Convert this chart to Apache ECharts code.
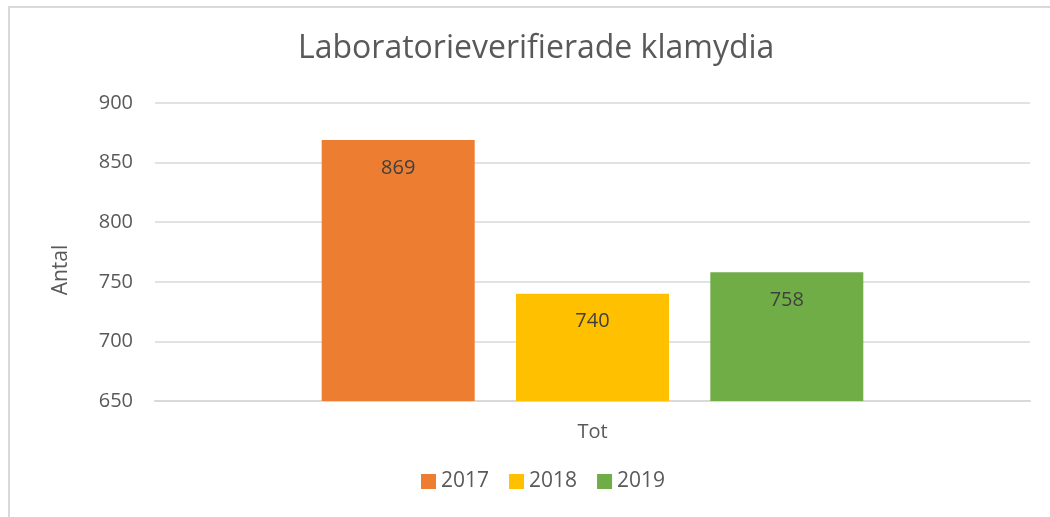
<!DOCTYPE html>
<html>
<head>
<meta charset="utf-8">
<script src="https://cdn.jsdelivr.net/npm/echarts@6/dist/echarts.min.js"></script>
<style>
  html, body { margin: 0; padding: 0; background: #fff; overflow: hidden; }
  #frame { position: absolute; left: 8px; top: 6px; width: 1100px; height: 600px; border: 2px solid #d9d9d9; box-sizing: border-box; }
  #chart { position: absolute; left: 0; top: 0; width: 1050px; height: 517px; }
</style>
</head>
<body>
<div id="frame"></div>
<div id="chart"></div>
<script>
var categories = ["Tot"];
var years = ["2017", "2018", "2019"];
var values2017 = [869];
var values2018 = [740];
var values2019 = [758];
var yTicks = [650, 700, 750, 800, 850, 900];

(function () {
  var font = "'Open Sans', 'Noto Sans', sans-serif";
  var colors = ["#ed7d31", "#ffc000", "#70ad47"];
  var seriesData = [values2017, values2018, values2019];
  var series = years.map(function (y, i) {
    return {
      name: y,
      type: "bar",
      data: seriesData[i],
      barWidth: 153,
      barGap: "27%",
      itemStyle: { color: colors[i] },
      label: {
        show: true,
        position: "insideTop",
        distance: 18,
        color: "#404040",
        fontSize: 20,
        fontFamily: font,
      },
    };
  });
  var option = {
    animation: false,
    textStyle: { fontFamily: font },
    title: {
      text: "Laboratorieverifierade klamydia",
      left: 293,
      top: 28,
      textStyle: { color: "#595959", fontSize: 32, fontWeight: "normal", fontFamily: font },
    },
    legend: {
      data: years,
      bottom: 20,
      left: 416,
      itemWidth: 15,
      itemHeight: 15,
      itemGap: 20,
      icon: "rect",
      textStyle: { color: "#595959", fontSize: 21, fontFamily: font },
    },
    graphic: [
      {
        type: "text",
        x: 51,
        y: 270,
        rotation: Math.PI / 2,
        style: {
          text: "Antal",
          fill: "#595959",
          font: "21px " + font,
          align: "center",
          verticalAlign: "top",
        },
      },
    ],
    grid: { left: 155, right: 20, top: 103, bottom: 116, containLabel: false },
    xAxis: {
      type: "category",
      data: categories,
      axisTick: { show: false },
      axisLine: { lineStyle: { color: "#d9d9d9", width: 2 } },
      axisLabel: { color: "#595959", fontSize: 20, margin: 21, fontFamily: font },
    },
    yAxis: {
      type: "value",
      min: yTicks[0],
      max: yTicks[yTicks.length - 1],
      interval: 50,
      axisLine: { show: false },
      axisTick: { show: false },
      axisLabel: { color: "#595959", fontSize: 20, margin: 22, fontFamily: font },
      splitLine: { lineStyle: { color: "#d9d9d9", width: 1.5 } },
    },
    series: series,
  };
  var myChart = echarts.init(document.getElementById("chart"));
  myChart.setOption(option);
})();
</script>
</body>
</html>
